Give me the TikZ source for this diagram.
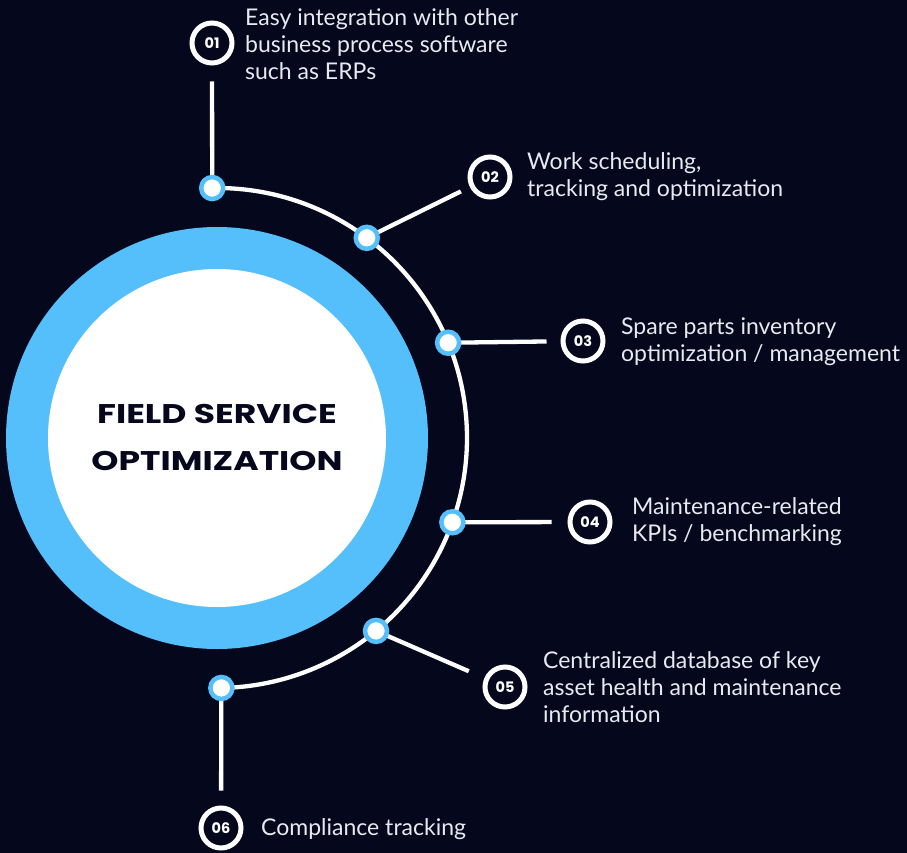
\documentclass[tikz,border=0pt]{standalone}
\usepackage{fontspec}
\setmainfont{Lato}
\newfontfamily\titlefont{Poppins}
\newfontfamily\titlewide{Poppins}[FakeStretch=1.28]
\usetikzlibrary{calc}
\definecolor{bg}{HTML}{05081D}
\definecolor{sky}{HTML}{55BFFB}
\definecolor{txt}{HTML}{E9E9F0}
\begin{document}
\begin{tikzpicture}[x=1pt,y=1pt,
  dot/.style={circle, fill=white, draw=sky, line width=4.5pt, minimum size=22pt, inner sep=0pt},
  num/.style={circle, draw=white, line width=5pt, minimum size=40pt, inner sep=0pt, text=white, font=\titlefont\bfseries\fontsize{14.5}{14.5}\selectfont},
  lbl/.style={anchor=west, align=left, text=txt, inner sep=0pt, font=\fontsize{23}{27}\selectfont},
  conn/.style={white, line width=4.3pt}]
\fill[bg] (0,0) rectangle (907,-853);
\useasboundingbox (0,0) rectangle (907,-853);
\coordinate (C) at (217,-438);
\fill[sky] (C) circle (211pt);
\fill[white] (C) circle (169pt);
\node[font=\titlewide\bfseries\fontsize{27}{47}\selectfont, text=bg, align=center] (title) at (217,-437) {FIELD SERVICE\\OPTIMIZATION};
% number circles
\node[num] (n1) at (212,-43) {01};
\node[num] (n2) at (490,-177) {02};
\node[num] (n3) at (583,-341) {03};
\node[num] (n4) at (590,-522) {04};
\node[num] (n5) at (505,-687) {05};
\node[num] (n6) at (221,-828) {06};
% points on arc
\coordinate (p1) at ($(C)+(91.1:250)$);
\coordinate (p2) at ($(C)+(53.2:250)$);
\coordinate (p3) at ($(C)+(22.4:250)$);
\coordinate (p4) at ($(C)+(-19.7:250)$);
\coordinate (p5) at ($(C)+(-50.5:250)$);
\coordinate (p6) at ($(C)+(-89:250)$);
% connectors
\draw[conn, shorten >=16pt] (p1) -- (n1);
\draw[conn, shorten >=10pt] (p2) -- (n2);
\draw[conn, shorten >=14pt] (p3) -- (n3);
\draw[conn, shorten >=16pt] (p4) -- (n4);
\draw[conn, shorten >=17pt] (p5) -- (n5);
\draw[conn, shorten >=15pt] (p6) -- (n6);
\draw[conn] (p1) arc (91.1:-89:250pt);
% dots
\foreach \i in {1,...,6} {\node[dot] (d\i) at (p\i) {};}
% labels
\node[lbl] (t1) at (245,-44) {Easy integration with other\\business process software\\such as ERPs};
\node[lbl] (t2) at (527,-177) {Work scheduling,\\tracking and optimization};
\node[lbl] (t3) at (621,-342) {Spare parts inventory\\optimization / management};
\node[lbl] (t4) at (632,-522) {Maintenance-related\\KPIs / benchmarking};
\node[lbl] (t5) at (543,-687) {Centralized database of key\\asset health and maintenance\\information};
\node[lbl] (t6) at (261,-829) {Compliance tracking};
\end{tikzpicture}
\end{document}
